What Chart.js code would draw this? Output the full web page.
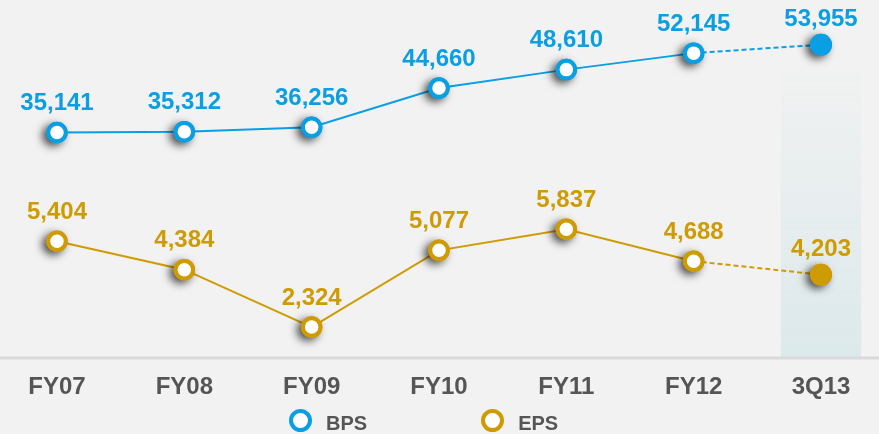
<!DOCTYPE html>
<html lang="en">
<head>
    <meta charset="UTF-8">
    <title>BPS / EPS</title>
    <script src="https://cdn.jsdelivr.net/npm/chart.js"></script>
    <style>
        html, body {
            margin: 0;
            padding: 0;
            background: #f2f2f2;
            overflow: hidden;
        }
        .chart-container {
            position: relative;
            width: 879px;
            height: 434px;
        }
        .legend {
            position: absolute;
            left: 289px;
            top: 409px;
            display: flex;
            gap: 114px;
            font-family: "Liberation Sans", Arial, sans-serif;
            font-weight: bold;
            font-size: 20px;
            color: #555555;
        }
        .legend-item {
            display: flex;
            align-items: center;
            height: 23px;
        }
        .legend-dot {
            box-sizing: border-box;
            width: 23px;
            height: 23px;
            border-radius: 50%;
            border: 4px solid;
            background: #fff;
            margin-right: 14px;
        }
        .legend-item span.label {
            position: relative;
            top: 3px;
        }
    </style>
</head>
<body>
    <div class="chart-container">
        <canvas id="chart" width="879" height="434"></canvas>
        <div class="legend" id="legend"></div>
    </div>
    <script>
        const periods = ['FY07', 'FY08', 'FY09', 'FY10', 'FY11', 'FY12', '3Q13'];
        const bpsValues = [35141, 35312, 36256, 44660, 48610, 52145, 53955];
        const epsValues = [5404, 4384, 2324, 5077, 5837, 4688, 4203];

        const BLUE = '#0a9fe3';
        const GOLD = '#cf9b02';
        const last = periods.length - 1;

        // last segment (estimate period) is dashed
        const dashLast = { borderDash: ctx => ctx.p1DataIndex === last ? [5, 3] : undefined };

        function lineSet(label, data, color, axis) {
            return {
                label: label,
                data: data,
                yAxisID: axis,
                borderColor: color,
                borderWidth: 2,
                pointRadius: 0,
                fill: false,
                clip: false,
                segment: dashLast,
                order: 3
            };
        }

        // solid discs that only cast the drop shadow
        function shadowSet(label, data, color, axis) {
            return {
                label: label,
                data: data,
                yAxisID: axis,
                showLine: false,
                pointBackgroundColor: color,
                pointBorderWidth: 0,
                pointRadius: ctx => ctx.dataIndex === last ? 11 : 10.75,
                clip: false,
                shadow: true,
                order: 2
            };
        }

        function pointSet(label, data, color, axis) {
            return {
                label: label,
                data: data,
                yAxisID: axis,
                showLine: false,
                borderColor: color,
                pointBorderColor: color,
                pointBackgroundColor: ctx => ctx.dataIndex === last ? color : '#ffffff',
                pointRadius: ctx => ctx.dataIndex === last ? 11 : 8.75,
                pointBorderWidth: ctx => ctx.dataIndex === last ? 0 : 4,
                clip: false,
                labelColor: color,
                order: 0
            };
        }

        const markerShadow = {
            id: 'markerShadow',
            beforeDatasetDraw(chart, args) {
                if (!chart.data.datasets[args.index].shadow) return;
                const ctx = chart.ctx;
                ctx.save();
                ctx.shadowColor = 'rgba(0, 0, 0, 0.7)';
                ctx.shadowBlur = 8;
                ctx.shadowOffsetX = -4;
                ctx.shadowOffsetY = 3;
            },
            afterDatasetDraw(chart, args) {
                if (!chart.data.datasets[args.index].shadow) return;
                chart.ctx.restore();
            }
        };

        // highlighted estimate column and the base line
        const backdrop = {
            id: 'backdrop',
            beforeDatasetsDraw(chart) {
                const { ctx, chartArea, scales } = chart;
                const x = scales.x.getPixelForValue(last);
                const half = (scales.x.getPixelForValue(1) - scales.x.getPixelForValue(0)) * 0.315;
                const top = 60;
                const grad = ctx.createLinearGradient(0, top, 0, chartArea.bottom);
                grad.addColorStop(0, 'rgba(220, 233, 235, 0)');
                grad.addColorStop(1, 'rgba(220, 233, 235, 1)');
                ctx.save();
                ctx.fillStyle = grad;
                ctx.fillRect(x - half, top, half * 2, chartArea.bottom - top);
                ctx.strokeStyle = '#dadada';
                ctx.lineWidth = 3;
                ctx.beginPath();
                ctx.moveTo(0, chartArea.bottom + 1);
                ctx.lineTo(chart.width, chartArea.bottom + 1);
                ctx.stroke();
                ctx.restore();
            }
        };

        // value labels above each marker
        const valueLabels = {
            id: 'valueLabels',
            afterDatasetsDraw(chart) {
                const ctx = chart.ctx;
                ctx.save();
                ctx.font = 'bold 24px "Liberation Sans", Arial, sans-serif';
                ctx.textAlign = 'center';
                ctx.textBaseline = 'middle';
                chart.data.datasets.forEach((ds, i) => {
                    if (!ds.labelColor) return;
                    ctx.fillStyle = ds.labelColor;
                    chart.getDatasetMeta(i).data.forEach((pt, j) => {
                        const lift = j === last ? 25 : 29;
                        ctx.fillText(ds.data[j].toLocaleString('en-US'), pt.x, pt.y - lift);
                    });
                });
                ctx.restore();
            }
        };

        new Chart(document.getElementById('chart'), {
            type: 'line',
            data: {
                labels: periods,
                datasets: [
                    lineSet('BPS', bpsValues, BLUE, 'yBps'),
                    lineSet('EPS', epsValues, GOLD, 'yEps'),
                    shadowSet('BPS', bpsValues, BLUE, 'yBps'),
                    shadowSet('EPS', epsValues, GOLD, 'yEps'),
                    pointSet('BPS', bpsValues, BLUE, 'yBps'),
                    pointSet('EPS', epsValues, GOLD, 'yEps')
                ]
            },
            options: {
                responsive: false,
                animation: false,
                events: [],
                layout: {
                    padding: { left: 57, right: 58, top: 0, bottom: 0 }
                },
                plugins: {
                    legend: { display: false },
                    tooltip: { enabled: false }
                },
                scales: {
                    x: {
                        offset: false,
                        grid: { display: false },
                        border: { display: false },
                        ticks: {
                            color: '#555555',
                            padding: 8,
                            font: { family: '"Liberation Sans", Arial, sans-serif', size: 24, weight: 'bold' }
                        },
                        afterFit: scale => { scale.height = 77; }
                    },
                    yBps: {
                        display: false,
                        min: -12963,
                        max: 60796
                    },
                    yEps: {
                        display: false,
                        min: 1249,
                        max: 13605
                    }
                }
            },
            plugins: [backdrop, markerShadow, valueLabels]
        });

        // html legend
        const legend = document.getElementById('legend');
        [['BPS', BLUE], ['EPS', GOLD]].forEach(([name, color]) => {
            const item = document.createElement('div');
            item.className = 'legend-item';
            item.innerHTML = '<span class="legend-dot" style="border-color:' + color + '"></span><span class="label">' + name + '</span>';
            legend.appendChild(item);
        });
    </script>
</body>
</html>
